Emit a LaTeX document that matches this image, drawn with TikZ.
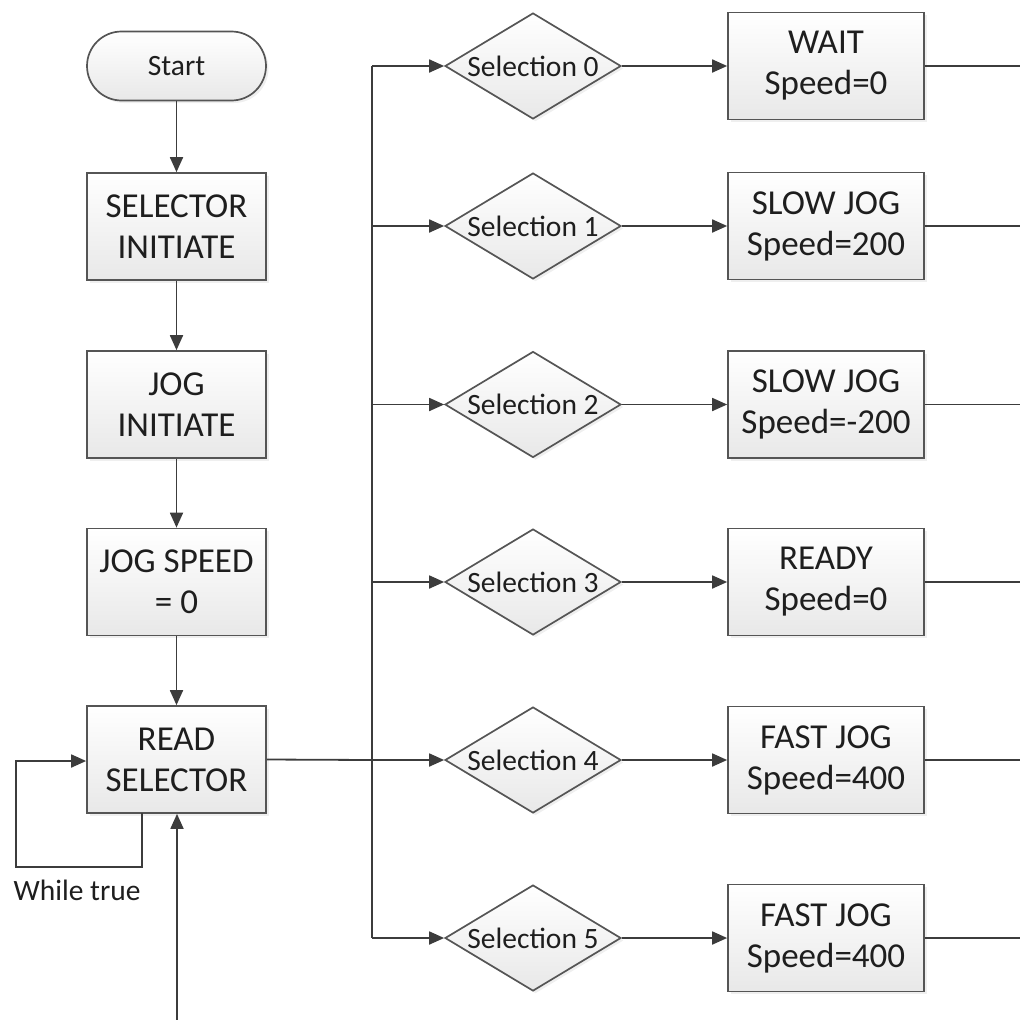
\documentclass[tikz,border=0pt]{standalone}
\usepackage{fontspec}
\setmainfont{Carlito}
\usetikzlibrary{arrows.meta,shapes.geometric,shadows}
\definecolor{edge}{HTML}{555555}
\definecolor{wire}{HTML}{3C3C3C}
\definecolor{ink}{HTML}{1E1E1E}
\begin{document}
\begin{tikzpicture}[x=1pt,y=-1pt,
  shaded/.style={draw=edge, line width=1.7pt, top color=white, bottom color=black!9,
    drop shadow={shadow xshift=2.5pt, shadow yshift=-2.5pt, fill=black!25, opacity=.25},
    text=ink, inner sep=0pt},
  procbox/.style={shaded, rectangle, minimum width=179pt, minimum height=107pt,
    align=center, font=\fontsize{35}{41}\selectfont},
  actbox/.style={procbox, minimum width=196pt},
  terminal/.style={shaded, rectangle, rounded corners=34.5pt, minimum width=179pt,
    minimum height=69pt, font=\fontsize{29.5}{34}\selectfont},
  decision/.style={shaded, diamond, minimum width=176pt, minimum height=106pt,
    font=\fontsize{29.5}{34}\selectfont},
  flow/.style={draw=wire, line width=1.8pt, -{Triangle[length=15pt,width=13pt]}},
  plain/.style={draw=wire, line width=1.8pt}
]
\useasboundingbox (0,0) rectangle (1020,1020);

% left column: start-up sequence
\node[terminal] (start) at (176.5,66) {Start};
\node[procbox] (selinit) at (176.5,226.5) {SELECTOR\\INITIATE};
\node[procbox] (joginit) at (176.5,404.5) {JOG\\INITIATE};
\node[procbox] (jogspeed) at (176.5,582) {JOG SPEED\\= 0};
\node[procbox] (read) at (176.5,759.5) {READ\\SELECTOR};

\draw[flow] (start) -- (selinit);
\draw[flow] (selinit) -- (joginit);
\draw[flow] (joginit) -- (jogspeed);
\draw[flow] (jogspeed) -- (read);

% polling loop
\coordinate (loopa) at (142,813);
\draw[flow] (loopa) -- (142,867) -- (16,867) -- (16,761) -- (read.west |- 0,761);
\node[font=\fontsize{29.5}{34}\selectfont, text=ink] (while) at (77,890) {While true};

% return path from the right-hand branches
\coordinate (ret) at (177,1020);
\draw[flow] (ret) -- (read.south -| ret);

% distribution bus
\coordinate (bustop) at (372,66);
\coordinate (busbot) at (372,938);
\draw[plain] (bustop) -- (busbot);

% decisions and actions
\foreach \i/\y/\ta/\tb in {0/66/WAIT/Speed=0,
                            1/226/SLOW JOG/Speed=200,
                            2/404.5/SLOW JOG/Speed=-200,
                            3/582/READY/Speed=0,
                            4/760/FAST JOG/Speed=400,
                            5/938/FAST JOG/Speed=400}{
  \node[decision] (sel\i) at (533,\y) {\makebox[0pt]{Selection \i}};
  \node[actbox] (act\i) at (826,\y) {\ta\\\tb};
  \coordinate (tap\i) at (372,\y);
  \coordinate (out\i) at (1020,\y);
  \draw[flow] (tap\i) -- (sel\i.west);
  \draw[flow] (sel\i.east) -- (act\i.west);
  \draw[plain] (act\i.east) -- (out\i);
}

% selector output into the bus
\draw[plain] (read.east) -- (tap4);
\end{tikzpicture}
\end{document}
